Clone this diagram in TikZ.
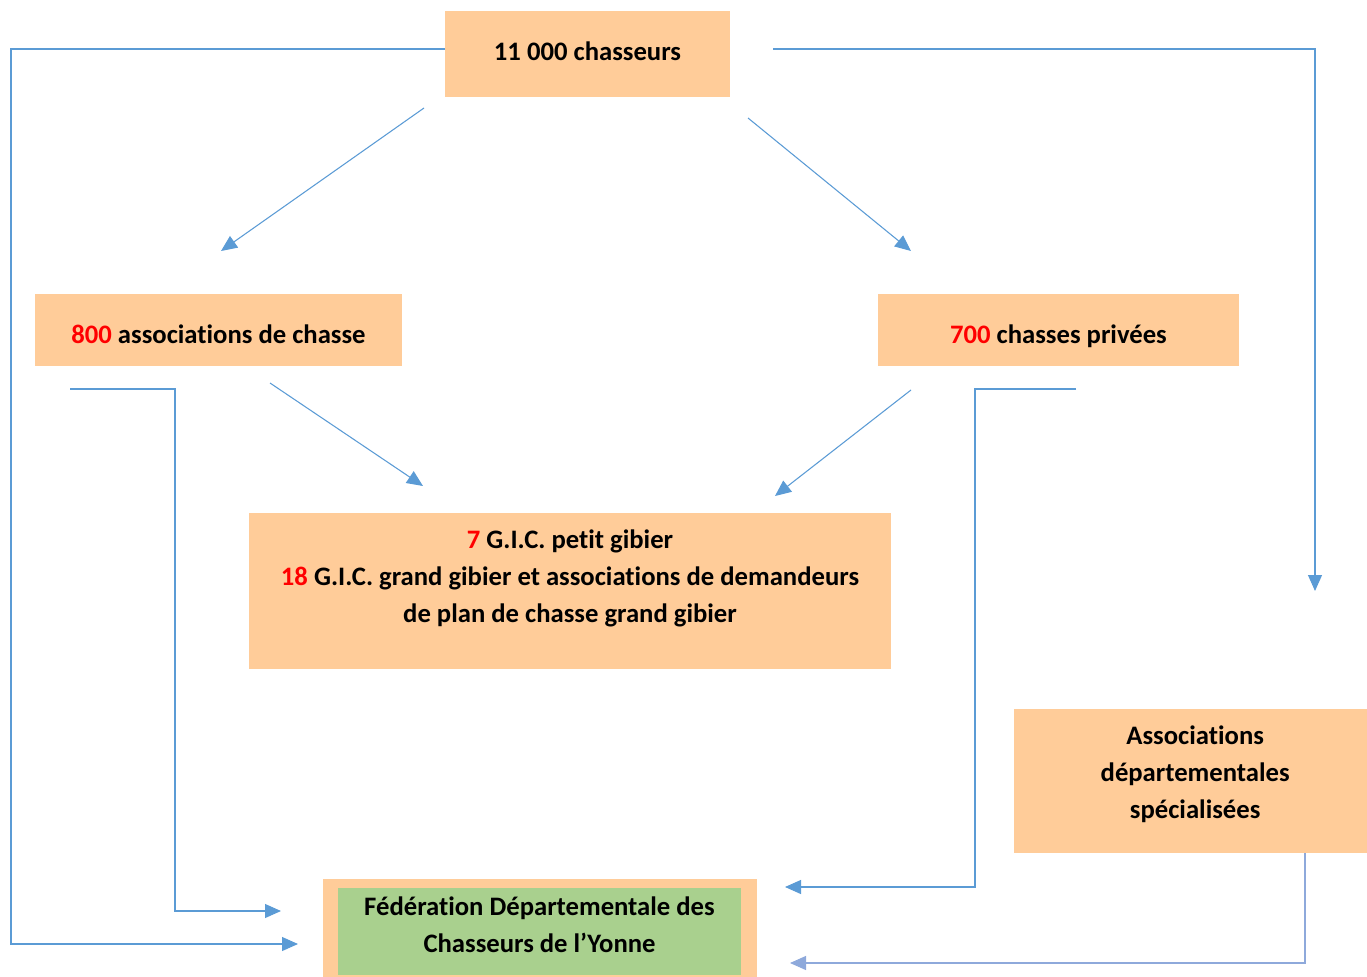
\documentclass[tikz,border=0pt]{standalone}
\usepackage{fontspec}
\setmainfont{Carlito}[Ligatures=NoCommon]
\usepackage{xcolor}
\usetikzlibrary{arrows.meta,positioning}
\definecolor{boxorange}{HTML}{FFCC99}
\definecolor{boxgreen}{HTML}{A9D08E}
\definecolor{lineblue}{HTML}{5B9BD5}
\definecolor{lineblue2}{HTML}{8EA9DB}
\newcommand{\px}{0.75pt}
\newcommand{\nb}[1]{\textcolor{red}{#1}}

\begin{document}
\begin{tikzpicture}[
x=0.75pt,y=-0.75pt,
MyBox/.style={fill=boxorange,inner sep=0pt,align=center,font=\fontsize{20}{27.75}\selectfont\bfseries},
MyArrows/.style={-{Triangle[length=12pt,width=10.5pt]},draw=lineblue,line width=0.8pt}
]
\useasboundingbox (0,0) rectangle (1367,977);

% the boxes
\node[MyBox,minimum width=285*\px,minimum height=86*\px] (hunters) at (587.5,54) {11~000 chasseurs\rule[-4.5pt]{0pt}{0pt}};
\node[MyBox,minimum width=367*\px,minimum height=72*\px] (assoc) at (218.5,330) {\rule{0pt}{20pt}\nb{800} associations de chasse};
\node[MyBox,minimum width=361*\px,minimum height=72*\px] (private) at (1058.5,330) {\rule{0pt}{24pt}\nb{700} chasses privées};
\node[MyBox,minimum width=642*\px,minimum height=156*\px] (gic) at (570,591)
  {\nb{7} G.I.C. petit gibier\\ \nb{18} G.I.C. grand gibier et associations de demandeurs\\ de plan de chasse grand gibier\rule[-23pt]{0pt}{0pt}};
\node[MyBox,minimum width=353*\px,minimum height=144*\px] (spec) at (1190.5,781)
  {\hspace*{7pt}Associations\\ \hspace*{7pt}départementales\\ \hspace*{7pt}spécialisées\rule[-13pt]{0pt}{0pt}};
\node[MyBox,minimum width=434*\px,minimum height=98*\px] (fedbox) at (540,928) {};
\node[MyBox,fill=boxgreen,minimum width=403*\px,minimum height=87*\px] (fed) at (539.5,931.5)
  {Fédération Départementale des\\ Chasseurs de l’Yonne\rule[-10.5pt]{0pt}{0pt}};

% free ends of the connectors
\coordinate (HuntW) at (445,49);
\coordinate (HuntE) at (773,49);
\coordinate (HuntSW) at (424,108);
\coordinate (HuntSE) at (748,118);
\coordinate (AssocIn) at (221,251);
\coordinate (PrivIn) at (911,251);
\coordinate (AssocS) at (270,383);
\coordinate (AssocSW) at (70,389);
\coordinate (PrivS) at (911,390);
\coordinate (PrivSE) at (1076,389);
\coordinate (GicW) at (423,486);
\coordinate (GicE) at (775,496);
\coordinate (SpecIn) at (1315,591);
\coordinate (SpecS) at (1305,853);
\coordinate (FedW1) at (281,911);
\coordinate (FedW2) at (298,944);
\coordinate (FedE1) at (785,887);
\coordinate (FedE2) at (790,963);

% connectors
\draw[MyArrows] (HuntSW) -- (AssocIn);
\draw[MyArrows] (HuntSE) -- (PrivIn);
\draw[MyArrows] (AssocS) -- (GicW);
\draw[MyArrows] (PrivS) -- (GicE);
\draw[MyArrows] (HuntW) -- ++(-434,0) |- (FedW2);
\draw[MyArrows] (HuntE) -| (SpecIn);
\draw[MyArrows] (AssocSW) -- ++(105,0) |- (FedW1);
\draw[MyArrows] (PrivSE) -- ++(-101,0) |- (FedE1);
\draw[MyArrows,draw=lineblue2,-{Triangle[length=12pt,width=10.5pt,fill=lineblue2]}] (SpecS) |- (FedE2);

\end{tikzpicture}
\end{document}
